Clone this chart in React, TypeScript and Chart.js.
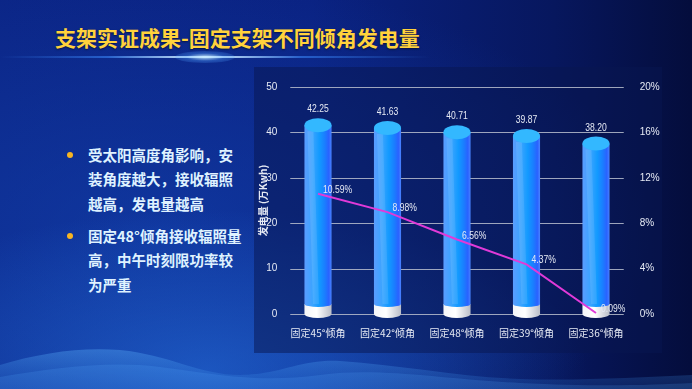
import React, { useEffect, useRef } from "react";
import { Chart, registerables } from "chart.js";

Chart.register(...registerables);

const titleText = "支架实证成果-固定支架不同倾角发电量";
const bullet1Lines = ["受太阳高度角影响，安", "装角度越大，接收辐照", "越高，发电量越高"];
const bullet2Lines = ["固定48°倾角接收辐照量", "高，中午时刻限功率较", "为严重"];

const categories = ["固定45°倾角", "固定42°倾角", "固定48°倾角", "固定39°倾角", "固定36°倾角"];
const generation = [42.25, 41.63, 40.71, 39.87, 38.2];
const limitRate = [10.59, 8.98, 6.56, 4.37, 0.09];

const leftAxisMax = 50;
const leftAxisStep = 10;
const rightAxisMax = 20;
const rightAxisStep = 4;
const leftAxisTitle = "发电量 (万Kwh)";

const SANS = "'Liberation Sans', 'Noto Sans CJK SC', sans-serif";
const CJK = "'Noto Sans CJK SC', sans-serif";
const LABEL_COLOR = "#e6eaf4";

function narrowText(ctx: any, text: string, x: number, y: number, align: "left" | "center") {
  ctx.save();
  ctx.translate(x, y);
  ctx.scale(0.78, 1);
  ctx.textAlign = align;
  ctx.fillText(text, 0, 0);
  ctx.restore();
}

const cylinderPlugin = {
  id: "cylinders",
  beforeDatasetsDraw(chart: any) {
    const { ctx, chartArea, scales } = chart;
    const ys = scales.y;
    ctx.save();
    ctx.strokeStyle = "rgba(185,190,206,0.85)";
    ctx.lineWidth = 1;
    ys.ticks.forEach((t: any) => {
      const py = Math.round(ys.getPixelForValue(t.value)) + 0.5;
      ctx.beginPath();
      ctx.moveTo(chartArea.left + 7, py);
      ctx.lineTo(chartArea.right - 7, py);
      ctx.stroke();
    });
    const meta = chart.getDatasetMeta(0);
    meta.data.forEach((el: any) => {
      const p = el.getProps(["x", "y", "width", "base"], true);
      const x = p.x;
      const rx = p.width / 2;
      const yt = p.y + 3;
      const yb = p.base;
      const whiteTop = yb - 10;
      const wg = ctx.createLinearGradient(x - rx, 0, x + rx, 0);
      wg.addColorStop(0, "#f4f5f8");
      wg.addColorStop(0.45, "#ffffff");
      wg.addColorStop(1, "#b9bdc8");
      ctx.fillStyle = wg;
      ctx.beginPath();
      ctx.moveTo(x - rx, whiteTop);
      ctx.lineTo(x - rx, yb);
      ctx.ellipse(x, yb, rx, 4, 0, Math.PI, 0, true);
      ctx.lineTo(x + rx, whiteTop);
      ctx.closePath();
      ctx.fill();
      const bg = ctx.createLinearGradient(x - rx, 0, x + rx, 0);
      bg.addColorStop(0, "#5a9cff");
      bg.addColorStop(0.3, "#3aa4ff");
      bg.addColorStop(0.55, "#129aff");
      bg.addColorStop(0.75, "#1a7eff");
      bg.addColorStop(0.9, "#2a62ff");
      bg.addColorStop(1, "#4a84ff");
      ctx.fillStyle = bg;
      ctx.beginPath();
      ctx.moveTo(x - rx, yt);
      ctx.lineTo(x - rx, whiteTop);
      ctx.ellipse(x, whiteTop, rx, 3, 0, Math.PI, 0, true);
      ctx.lineTo(x + rx, yt);
      ctx.closePath();
      ctx.fill();
      ctx.fillStyle = "rgba(255,255,255,0.10)";
      ctx.beginPath();
      ctx.moveTo(x - rx + 3, yt + 6);
      ctx.lineTo(x - rx + 9, yt + 6);
      ctx.lineTo(x + 1, whiteTop);
      ctx.lineTo(x - 5, whiteTop);
      ctx.closePath();
      ctx.fill();
      ctx.fillStyle = "#33b8ff";
      ctx.beginPath();
      ctx.ellipse(x, yt, rx, 7, 0, 0, Math.PI * 2);
      ctx.fill();
    });
    ctx.restore();
  },
  afterDatasetsDraw(chart: any) {
    const { ctx } = chart;
    ctx.save();
    ctx.fillStyle = LABEL_COLOR;
    ctx.font = `11px ${SANS}`;
    ctx.textBaseline = "middle";
    chart.getDatasetMeta(0).data.forEach((el: any, i: number) => {
      const p = el.getProps(["x", "y"], true);
      narrowText(ctx, generation[i].toFixed(2), p.x, p.y - 13, "center");
    });
    chart.getDatasetMeta(1).data.forEach((el: any, i: number) => {
      const p = el.getProps(["x", "y"], true);
      narrowText(ctx, limitRate[i].toFixed(2) + "%", p.x + 5, p.y - 4, "left");
    });
    ctx.restore();
  },
};

function ChartBox() {
  const ref = useRef<HTMLCanvasElement>(null);
  useEffect(() => {
    if (!ref.current) return;
    const chart = new Chart(ref.current, {
      type: "bar",
      data: {
        labels: categories,
        datasets: [
          {
            type: "bar",
            label: "发电量",
            data: generation,
            backgroundColor: "rgba(0,0,0,0)",
            categoryPercentage: 1,
            barPercentage: 0.39,
            yAxisID: "y",
            order: 2,
          } as any,
          {
            type: "line",
            label: "限功率",
            data: limitRate,
            borderColor: "#e03ad8",
            borderWidth: 2,
            pointRadius: 0,
            tension: 0,
            yAxisID: "y1",
            order: 1,
          } as any,
        ],
      },
      options: {
        responsive: false,
        animation: false,
        events: [],
        layout: { padding: { top: 20, left: 0, right: 0, bottom: 0 } },
        plugins: { legend: { display: false }, tooltip: { enabled: false } },
        scales: {
          x: {
            grid: { display: false },
            border: { display: false },
            ticks: { color: LABEL_COLOR, font: { size: 10, family: CJK }, padding: 5, maxRotation: 0 },
            afterFit: (s: any) => { s.height = 39; },
          },
          y: {
            position: "left",
            min: 0,
            max: leftAxisMax,
            grid: { display: false },
            border: { display: false },
            ticks: { stepSize: leftAxisStep, color: LABEL_COLOR, font: { size: 10, family: SANS }, padding: -2 },
            title: {
              display: true,
              text: leftAxisTitle,
              color: LABEL_COLOR,
              font: { size: 10, family: CJK, weight: "bold" },
              padding: { top: 3, bottom: 0 },
            },
            afterFit: (s: any) => { s.width = 29.25; },
          },
          y1: {
            position: "right",
            min: 0,
            max: rightAxisMax,
            grid: { display: false },
            border: { display: false },
            ticks: {
              stepSize: rightAxisStep,
              color: LABEL_COLOR,
              font: { size: 10, family: SANS },
              padding: 1,
              callback: (v: any) => v + "%",
            },
            afterFit: (s: any) => { s.width = 31.25; },
          },
        },
      } as any,
      plugins: [cylinderPlugin],
    });
    return () => chart.destroy();
  }, []);
  return <canvas ref={ref} width={408} height={286} style={{ position: "absolute", left: 0, top: 0, width: 408, height: 286 }} />;
}

export default function App() {
  const bulletStyle: React.CSSProperties = {
    position: "absolute",
    left: 88,
    fontFamily: CJK,
    fontWeight: 700,
    fontSize: 14.5,
    lineHeight: "24.5px",
    color: "#dff2ff",
    whiteSpace: "nowrap",
  };
  const dot = (top: number): React.CSSProperties => ({
    position: "absolute",
    left: 67,
    top: top - 3,
    width: 6,
    height: 6,
    borderRadius: 3,
    background: "#f7b522",
  });
  return (
    <div
      style={{
        position: "fixed",
        left: 0,
        top: 0,
        width: 692,
        height: 389,
        overflow: "hidden",
        background:
          "radial-gradient(ellipse 380px 160px at 30% 95%, rgba(40,120,230,0.55), rgba(40,120,230,0) 100%), radial-gradient(ellipse 500px 260px at 22% 60%, rgba(20,70,180,0.55), rgba(20,70,180,0) 100%), linear-gradient(90deg, #0b2586 0%, #0a2282 45%, #07175e 80%, #040d3c 100%)",
      }}
    >
      <svg width={692} height={70} style={{ position: "absolute", left: 0, top: 319 }}>
        <defs>
          <linearGradient id="wv" x1="0" y1="0" x2="0" y2="1">
            <stop offset="0" stopColor="#5fb6ff" stopOpacity="0.35" />
            <stop offset="1" stopColor="#2f7fe0" stopOpacity="0.15" />
          </linearGradient>
        </defs>
        <path d="M0,46 C40,34 80,28 120,31 C170,36 200,56 240,56 C280,56 300,40 340,42 C400,46 460,58 520,60 C580,62 640,58 692,56 L692,70 L0,70 Z" fill="url(#wv)" />
        <path d="M0,58 C60,48 110,42 160,48 C220,56 260,64 320,56 C380,48 440,60 520,64 C600,68 650,66 692,64 L692,70 L0,70 Z" fill="rgba(90,170,255,0.18)" />
      </svg>
      <div
        style={{
          position: "absolute",
          left: 0,
          top: 56,
          width: 430,
          height: 2,
          background:
            "linear-gradient(90deg, rgba(60,140,255,0) 0%, rgba(60,140,255,0.55) 25%, #d9f2ff 47.5%, rgba(60,140,255,0.55) 70%, rgba(60,140,255,0) 100%)",
        }}
      />
      <div
        style={{
          position: "absolute",
          left: 175,
          top: 51,
          width: 60,
          height: 12,
          borderRadius: "50%",
          background: "radial-gradient(ellipse at center, rgba(200,235,255,0.9) 0%, rgba(80,160,255,0.35) 45%, rgba(80,160,255,0) 100%)",
        }}
      />
      <div
        style={{
          position: "absolute",
          left: 55,
          top: 25,
          fontFamily: CJK,
          fontWeight: 700,
          fontSize: 21,
          lineHeight: "24px",
          color: "#ffd23c",
          whiteSpace: "nowrap",
          textShadow: "0 1px 2px rgba(0,0,0,0.5)",
        }}
      >
        {titleText}
      </div>
      <div style={dot(155)} />
      <div style={{ ...bulletStyle, top: 142.75 }}>
        {bullet1Lines.map((l, i) => (
          <div key={i}>{l}</div>
        ))}
      </div>
      <div style={dot(236)} />
      <div style={{ ...bulletStyle, top: 223.75 }}>
        {bullet2Lines.map((l, i) => (
          <div key={i}>{l}</div>
        ))}
      </div>
      <div
        style={{
          position: "absolute",
          left: 254,
          top: 67,
          width: 408,
          height: 286,
          background: "rgba(8,22,80,0.5)",
        }}
      >
        <ChartBox />
      </div>
    </div>
  );
}
